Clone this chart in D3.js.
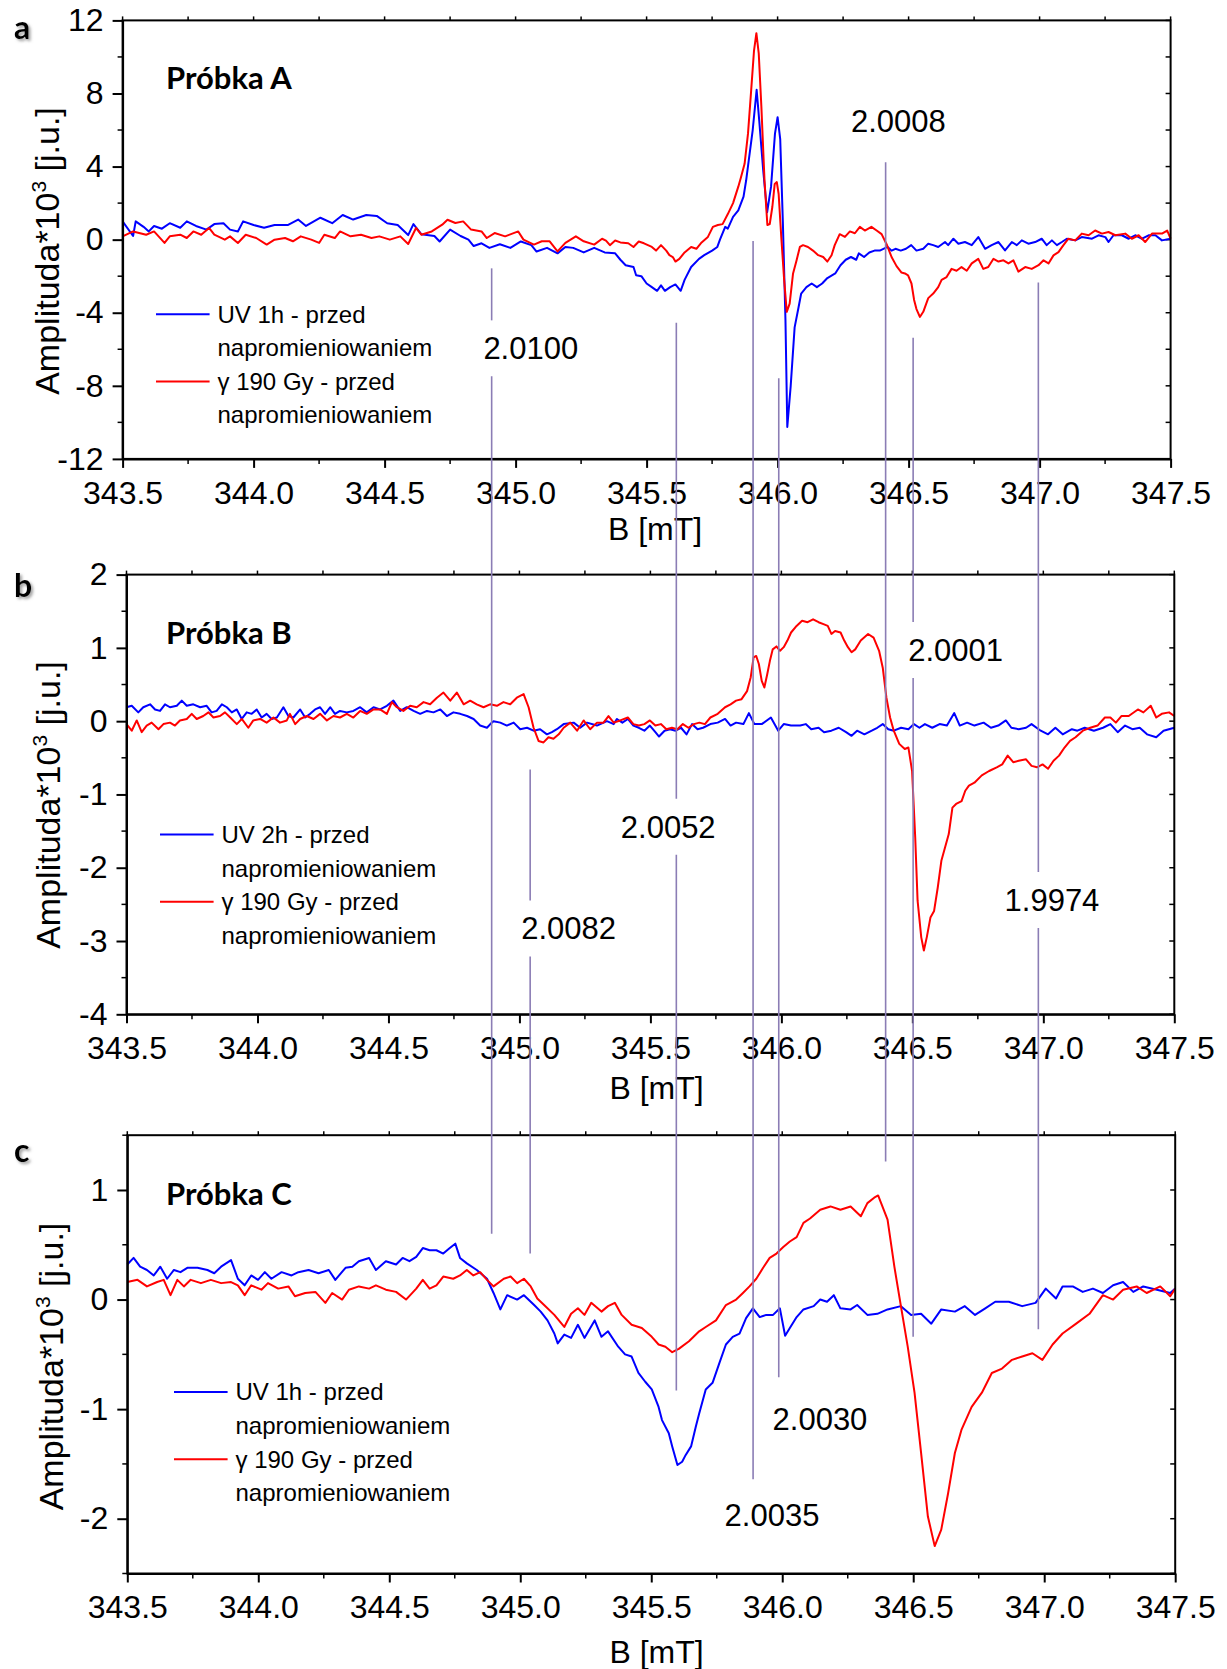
<!DOCTYPE html>
<html>
<head>
<meta charset="utf-8">
<script src="https://cdn.jsdelivr.net/npm/d3@7"></script>
<style>
  body { margin: 0; background: #fff; }
  svg { display: block; }
  text { font-family: "Liberation Sans", Arial, sans-serif; fill: #000; }
</style>
</head>
<body>
<div id="chart"></div>
<script>
// ---- data (B [mT], amplitude*10^3) ----

var blueA = [[343.50,1.0],[343.54,0.2],[343.55,1.0],[343.58,0.7],[343.60,0.45],[343.62,0.75],[343.65,0.6],[343.68,0.9],[343.72,0.65],[343.745,1.0],[343.78,0.75],[343.82,0.55],[343.85,0.85],[343.885,0.9],[343.91,0.55],[343.94,0.45],[343.96,1.0],[344.0,0.8],[344.04,0.65],[344.08,0.8],[344.13,0.8],[344.17,1.1],[344.2,0.75],[344.255,1.2],[344.3,0.9],[344.34,1.35],[344.38,1.1],[344.43,1.35],[344.47,1.3],[344.51,0.9],[344.55,0.8],[344.59,0.25],[344.61,0.85],[344.64,0.3],[344.69,0.2],[344.71,-0.1],[344.75,0.55],[344.79,0.2],[344.82,0.0],[344.84,-0.35],[344.87,-0.2],[344.9,-0.45],[344.94,-0.25],[344.98,-0.45],[345.02,-0.1],[345.06,-0.3],[345.08,-0.65],[345.12,-0.45],[345.16,-0.75],[345.19,-0.4],[345.22,-0.45],[345.26,-0.7],[345.3,-0.45],[345.34,-0.7],[345.38,-0.75],[345.40,-1.1],
  [345.42,-1.4],[345.45,-1.5],[345.46,-1.95],[345.48,-2.0],[345.50,-2.4],[345.52,-2.6],[345.54,-2.8],[345.555,-2.5],[345.57,-2.8],[345.59,-2.6],[345.61,-2.45],[345.63,-2.8],[345.645,-2.2],[345.67,-1.5],[345.70,-1.05],[345.72,-0.85],[345.75,-0.6],[345.77,-0.4],[345.78,0.0],[345.80,0.7],[345.81,0.6],[345.83,1.25],[345.85,1.6],[345.87,2.35],[345.88,3.25],[345.89,4.35],[345.905,6.0],[345.92,8.2],[345.93,6.5],[345.945,3.8],[345.96,1.5],[345.975,2.9],[345.99,5.8],[346.0,6.7],[346.01,5.5],[346.02,1.0],[346.03,-4.4],[346.037,-10.25],[346.05,-8.0],[346.065,-4.8],[346.08,-3.7],[346.09,-2.95],[346.11,-2.6],[346.13,-2.4],[346.15,-2.6],[346.17,-2.4],[346.19,-2.1],[346.22,-1.85],[346.24,-1.4],[346.26,-1.1],[346.28,-0.95],[346.30,-1.1],[346.31,-0.75],[346.33,-0.95],[346.35,-0.7],[346.37,-0.6],[346.39,-0.6],[346.42,-0.4],[346.435,-0.6],[346.45,-0.5],[346.47,-0.6],
  [346.49,-0.5],[346.51,-0.3],[346.53,-0.6],[346.556,-0.5],[346.575,-0.22],[346.594,-0.3],[346.613,-0.4],[346.639,-0.13],[346.651,-0.3],[346.671,0.05],[346.69,-0.22],[346.715,-0.13],[346.741,-0.3],[346.766,0.14],[346.792,-0.5],[346.817,-0.3],[346.843,-0.13],[346.868,-0.59],[346.894,-0.13],[346.913,-0.3],[346.932,-0.04],[346.957,-0.22],[346.983,-0.13],[347.008,0.05],[347.027,-0.3],[347.047,-0.04],[347.066,-0.3],[347.085,-0.13],[347.104,0.05],[347.136,-0.04],[347.161,0.14],[347.2,0.05],[347.225,0.24],[347.251,0.14],[347.263,-0.13],[347.282,0.24],[347.314,0.24],[347.34,0.05],[347.365,0.24],[347.391,0.05],[347.416,0.24],[347.442,0.24],[347.467,-0.04],[347.5,0.05]];

var redA = [[343.50,0.18],[343.54,0.45],[343.59,0.27],[343.62,0.45],[343.66,-0.18],[343.68,0.18],[343.72,0.27],[343.745,0.09],[343.77,0.45],[343.80,0.27],[343.83,0.64],[343.85,0.27],[343.89,0.0],[343.91,0.18],[343.94,-0.18],[343.97,0.27],[344.01,0.09],[344.05,-0.27],[344.08,0.0],[344.12,0.09],[344.15,-0.09],[344.18,0.18],[344.22,0.0],[344.25,-0.18],[344.27,0.27],[344.31,0.09],[344.33,0.45],[344.37,0.18],[344.41,0.27],[344.45,0.09],[344.48,0.18],[344.52,0.0],[344.56,0.18],[344.59,-0.24],[344.62,0.64],[344.64,0.27],[344.68,0.45],[344.72,0.82],[344.74,1.09],[344.77,0.91],[344.80,1.0],[344.83,0.55],[344.87,0.45],[344.89,0.09],[344.92,0.36],[344.96,0.18],[345.01,0.45],[345.03,0.0],[345.07,-0.27],[345.10,-0.09],[345.13,-0.09],[345.16,-0.64],[345.19,-0.18],[345.23,0.18],[345.26,-0.09],[345.30,-0.27],[345.33,0.05],[345.345,-0.05],[345.36,-0.3],[345.38,-0.05],[345.40,-0.15],[345.43,-0.2],[345.45,-0.4],[345.47,-0.1],[345.49,-0.2],[345.52,-0.4],[345.536,-0.6],[345.555,-0.3],[345.575,-0.6],[345.587,-0.85],[345.6,-0.95],[345.61,-1.2],[345.625,-1.05],[345.645,-0.7],[345.67,-0.4],[345.69,-0.5],[345.71,-0.15],[345.734,0.15],[345.753,0.7],[345.772,0.8],[345.79,0.85],[345.81,1.4],[345.83,2.0],[345.85,2.9],[345.86,3.4],[345.874,4.15],[345.887,5.8],[345.9,8.35],[345.91,10.35],[345.919,11.3],[345.928,10.2],[345.938,7.3],[345.95,3.25],[345.961,0.8],[345.97,0.85],[345.98,1.8],[345.989,3.05],[345.997,3.15],[346.004,2.5],[346.014,0.15],[346.025,-2.2],[346.035,-3.95],[346.046,-3.5],[346.059,-1.85],[346.072,-1.15],[346.085,-0.4],[346.097,-0.3],[346.116,-0.4],[346.135,-0.6],[346.155,-0.85],[346.174,-0.95],[346.19,-1.2],[346.206,-0.85],[346.218,-0.3],[346.237,0.3],[346.257,0.15],[346.276,0.45],[346.295,0.35],[346.314,0.7],[346.333,0.5],[346.358,0.7],[346.378,0.5],[346.397,0.3],[346.416,-0.25],[346.435,-0.95],[346.454,-1.45],[346.473,-1.8],[346.486,-1.85],[346.498,-1.95],[346.511,-2.4],[346.521,-3.3],[346.53,-3.8],[346.543,-4.23],[346.556,-3.95],[346.575,-3.2],[346.594,-2.95],[346.613,-2.6],[346.626,-2.2],[346.645,-2.05],[346.664,-1.6],[346.683,-1.7],[346.702,-1.5],[346.722,-1.7],[346.741,-1.3],[346.766,-1.05],[346.785,-1.6],[346.804,-1.5],[346.824,-1.05],[346.843,-1.2],[346.862,-1.13],[346.881,-1.3],[346.9,-1.13],[346.919,-1.75],[346.945,-1.5],[346.97,-1.6],[346.996,-1.4],[347.015,-1.13],[347.034,-1.3],[347.053,-0.86],[347.072,-0.68],[347.091,-0.3],[347.11,0.05],[347.136,-0.04],[347.161,0.33],[347.187,0.24],[347.212,0.5],[347.238,0.33],[347.263,0.42],[347.289,0.24],[347.327,0.33],[347.352,0.05],[347.378,0.24],[347.403,-0.13],[347.429,0.33],[347.467,0.33],[347.487,0.5],[347.5,0.05]];

var blueB = [[343.50,0.19],[343.52,0.21],[343.545,0.12],[343.564,0.19],[343.59,0.23],[343.609,0.16],[343.628,0.14],[343.647,0.23],[343.666,0.19],[343.692,0.21],[343.711,0.28],[343.73,0.21],[343.755,0.23],[343.781,0.19],[343.806,0.21],[343.825,0.12],[343.844,0.14],[343.864,0.23],[343.883,0.19],[343.902,0.12],[343.921,0.16],[343.94,0.03],[343.959,0.12],[343.978,0.10],[343.997,0.16],[344.016,0.05],[344.035,0.10],[344.054,0.03],[344.074,0.05],[344.099,0.19],[344.118,0.07],[344.137,0.05],[344.163,0.16],[344.182,0.05],[344.201,0.10],[344.22,0.16],[344.239,0.19],[344.258,0.10],[344.278,0.19],[344.296,0.10],[344.315,0.14],[344.341,0.12],[344.366,0.14],[344.392,0.19],[344.417,0.12],[344.443,0.19],[344.468,0.16],[344.494,0.21],[344.519,0.28],[344.545,0.14],[344.57,0.19],[344.596,0.14],[344.621,0.10],[344.647,0.14],[344.672,0.12],[344.698,0.16],[344.723,0.07],[344.748,0.12],[344.774,0.10],[344.8,0.07],[344.825,0.03],[344.85,-0.06],[344.876,-0.09],[344.889,-0.04],[344.901,0.0],[344.927,-0.02],[344.952,-0.06],[344.978,-0.02],[345.003,-0.11],[345.029,-0.09],[345.054,-0.13],[345.079,-0.11],[345.105,-0.18],[345.124,-0.15],[345.143,-0.11],[345.169,-0.04],[345.207,-0.02],[345.232,-0.09],[345.258,-0.02],[345.296,-0.06],[345.334,0.0],[345.36,-0.04],
  [345.372,0.03],[345.393,-0.02],[345.414,0.03],[345.435,-0.06],[345.456,-0.09],[345.477,-0.13],[345.498,-0.06],[345.519,-0.15],[345.533,-0.21],[345.554,-0.13],[345.575,-0.11],[345.596,-0.13],[345.617,-0.09],[345.638,-0.18],[345.659,-0.04],[345.68,-0.11],[345.701,-0.09],[345.729,-0.04],[345.757,-0.02],[345.785,0.03],[345.806,-0.06],[345.827,-0.02],[345.855,-0.04],[345.876,0.11],[345.897,-0.04],[345.925,-0.04],[345.96,0.05],[345.988,-0.13],[346.009,-0.04],[346.037,-0.06],[346.072,-0.06],[346.093,-0.04],[346.114,-0.11],[346.142,-0.09],[346.163,-0.15],[346.191,-0.13],[346.219,-0.09],[346.247,-0.15],[346.268,-0.20],[346.289,-0.13],[346.317,-0.18],[346.345,-0.13],[346.366,-0.09],[346.387,-0.04],[346.408,-0.11],[346.429,-0.13],[346.457,-0.09],[346.485,-0.11],[346.506,-0.04],[346.527,-0.09],[346.548,-0.04],[346.576,-0.09],[346.604,-0.04],[346.632,-0.06],[346.66,0.11],[346.681,-0.06],[346.709,-0.02],[346.737,-0.06],[346.772,-0.02],[346.8,-0.09],[346.828,-0.06],[346.857,0.01],[346.878,-0.09],[346.906,-0.11],[346.934,-0.09],[346.955,-0.04],[346.99,-0.13],[347.018,-0.18],[347.046,-0.09],[347.074,-0.18],[347.109,-0.11],[347.13,-0.13],[347.158,-0.09],[347.193,-0.13],[347.228,-0.09],[347.256,-0.04],[347.284,-0.15],[347.312,-0.06],[347.34,-0.11],[347.368,-0.09],[347.396,-0.18],[347.431,-0.22],[347.459,-0.13],[347.5,-0.09]];

var redB = [[343.50,-0.04],[343.52,-0.13],[343.539,0.01],[343.558,-0.15],[343.577,-0.06],[343.596,-0.02],[343.622,-0.11],[343.641,-0.04],[343.666,-0.02],[343.685,-0.06],[343.704,0.01],[343.73,0.03],[343.749,0.10],[343.768,0.03],[343.793,0.07],[343.813,0.12],[343.832,0.05],[343.857,0.07],[343.876,0.12],[343.896,0.05],[343.921,-0.04],[343.94,0.03],[343.965,-0.09],[343.984,0.01],[344.01,0.03],[344.035,-0.02],[344.061,0.05],[344.086,-0.02],[344.112,0.01],[344.124,0.10],[344.144,-0.04],[344.163,0.03],[344.188,0.07],[344.214,0.03],[344.239,0.10],[344.265,0.01],[344.29,0.07],[344.315,0.05],[344.341,0.10],[344.366,0.05],[344.392,0.14],[344.417,0.10],[344.443,0.16],[344.468,0.16],[344.494,0.10],[344.513,0.26],[344.532,0.19],[344.557,0.14],[344.583,0.21],[344.608,0.19],[344.634,0.26],[344.659,0.23],[344.685,0.32],[344.71,0.39],[344.736,0.28],[344.761,0.39],[344.787,0.23],[344.812,0.28],[344.837,0.23],[344.863,0.19],[344.888,0.23],[344.914,0.21],[344.939,0.26],[344.965,0.23],[344.99,0.32],[345.016,0.37],[345.035,0.19],[345.054,-0.09],[345.073,-0.27],[345.092,-0.29],[345.111,-0.22],[345.13,-0.24],[345.15,-0.18],[345.169,-0.09],[345.194,-0.02],[345.22,-0.13],[345.245,0.01],[345.27,-0.11],[345.296,-0.02],[345.321,-0.02],[345.34,0.07],[345.36,-0.02],[345.385,0.01],
  [345.414,0.05],[345.435,-0.04],[345.456,-0.06],[345.477,-0.04],[345.498,0.01],[345.519,-0.06],[345.54,-0.04],[345.561,-0.11],[345.582,-0.09],[345.603,-0.11],[345.624,-0.04],[345.645,-0.09],[345.666,-0.04],[345.687,-0.02],[345.708,-0.04],[345.729,0.05],[345.757,0.10],[345.785,0.19],[345.806,0.23],[345.827,0.28],[345.848,0.30],[345.869,0.41],[345.883,0.60],[345.894,0.87],[345.904,0.89],[345.914,0.78],[345.925,0.55],[345.935,0.46],[345.946,0.64],[345.956,0.82],[345.967,0.98],[345.981,1.02],[345.995,0.96],[346.009,1.01],[346.023,1.10],[346.037,1.21],[346.058,1.30],[346.079,1.37],[346.1,1.35],[346.121,1.39],[346.142,1.35],[346.163,1.32],[346.177,1.30],[346.191,1.19],[346.205,1.23],[346.226,1.21],[346.24,1.10],[346.254,1.01],[346.268,0.94],[346.282,0.98],[346.303,1.10],[346.331,1.19],[346.352,1.14],[346.373,0.96],[346.387,0.73],[346.401,0.32],[346.415,0.05],[346.429,-0.13],[346.45,-0.31],[346.471,-0.38],[346.485,-0.36],[346.499,-0.68],[346.511,-1.59],[346.520,-2.45],[346.534,-2.95],[346.544,-3.13],[346.555,-2.95],[346.569,-2.68],[346.583,-2.59],[346.597,-2.27],[346.611,-1.90],[346.625,-1.72],[346.639,-1.54],[346.653,-1.18],[346.667,-1.13],[346.688,-1.09],[346.702,-0.95],[346.716,-0.88],[346.737,-0.84],[346.765,-0.74],[346.793,-0.68],[346.822,-0.63],[346.843,-0.59],[346.864,-0.47],[346.885,-0.56],[346.906,-0.54],[346.934,-0.52],[346.955,-0.61],[346.976,-0.63],[346.997,-0.59],[347.018,-0.65],[347.039,-0.54],[347.06,-0.47],[347.081,-0.36],[347.102,-0.27],[347.123,-0.22],[347.151,-0.13],[347.179,-0.09],[347.207,-0.06],[347.235,0.05],[347.256,0.05],[347.277,-0.02],[347.298,0.07],[347.326,0.07],[347.361,0.16],[347.382,0.12],[347.41,0.21],[347.431,0.05],[347.452,0.10],[347.48,0.12],[347.5,0.07]];

var blueC = [[343.50,0.32],[343.524,0.38],[343.549,0.30],[343.575,0.27],[343.601,0.22],[343.626,0.30],[343.652,0.19],[343.678,0.27],[343.703,0.25],[343.729,0.29],[343.768,0.29],[343.806,0.27],[343.832,0.24],[343.858,0.30],[343.896,0.36],[343.922,0.19],[343.948,0.13],[343.973,0.22],[343.999,0.18],[344.025,0.25],[344.05,0.19],[344.089,0.25],[344.127,0.22],[344.153,0.25],[344.192,0.27],[344.23,0.24],[344.269,0.27],[344.294,0.18],[344.333,0.29],[344.359,0.30],[344.384,0.35],[344.423,0.38],[344.449,0.27],[344.487,0.35],[344.526,0.32],[344.551,0.38],[344.577,0.35],[344.603,0.39],[344.628,0.47],[344.654,0.45],[344.68,0.45],[344.706,0.42],[344.731,0.47],[344.752,0.51],[344.77,0.38],[344.796,0.33],[344.834,0.27],[344.873,0.19],[344.898,0.06],[344.924,-0.09],[344.95,0.04],[344.988,0.0],[345.014,0.04],[345.053,-0.05],[345.078,-0.11],[345.104,-0.19],[345.13,-0.31],[345.143,-0.40],[345.168,-0.32],[345.194,-0.35],[345.22,-0.23],[345.245,-0.35],[345.284,-0.19],[345.31,-0.34],[345.335,-0.29],[345.374,-0.43],[345.4,-0.50],[345.425,-0.52],[345.451,-0.67],[345.477,-0.75],[345.502,-0.82],[345.528,-0.98],[345.541,-1.10],[345.567,-1.22],[345.58,-1.34],[345.6,-1.51],[345.618,-1.48],[345.631,-1.42],[345.652,-1.34],[345.67,-1.16],[345.683,-1.04],[345.708,-0.82],[345.734,-0.76],[345.76,-0.58],[345.785,-0.41],[345.811,-0.34],[345.837,-0.31],[345.862,-0.17],[345.888,-0.08],[345.914,-0.16],[345.939,-0.14],[345.965,-0.14],[345.991,-0.08],[346.011,-0.33],[346.029,-0.26],[346.055,-0.16],[346.081,-0.09],[346.12,-0.06],[346.145,0.0],[346.171,-0.02],[346.197,0.04],[346.222,-0.08],[346.261,-0.09],[346.286,-0.05],[346.325,-0.14],[346.363,-0.13],[346.402,-0.09],[346.453,-0.06],[346.492,-0.14],[346.53,-0.13],[346.569,-0.22],[346.607,-0.09],[346.659,-0.11],[346.697,-0.06],[346.736,-0.14],[346.775,-0.08],[346.813,-0.02],[346.865,-0.02],[346.916,-0.06],[346.967,-0.03],[347.006,0.10],[347.045,0.01],[347.07,0.12],[347.109,0.12],[347.147,0.07],[347.186,0.10],[347.224,0.06],[347.263,0.13],[347.301,0.16],[347.34,0.07],[347.378,0.12],[347.43,0.09],[347.481,0.06],[347.5,0.1]];

var redC = [[343.50,0.16],[343.539,0.18],[343.575,0.12],[343.614,0.16],[343.639,0.18],[343.665,0.04],[343.691,0.18],[343.716,0.12],[343.742,0.18],[343.781,0.15],[343.819,0.18],[343.858,0.15],[343.896,0.16],[343.922,0.13],[343.948,0.04],[343.973,0.13],[344.012,0.09],[344.037,0.15],[344.076,0.10],[344.115,0.12],[344.14,0.03],[344.179,0.06],[344.218,0.07],[344.256,-0.03],[344.282,0.06],[344.32,0.0],[344.346,0.09],[344.384,0.12],[344.423,0.10],[344.449,0.13],[344.487,0.09],[344.526,0.07],[344.564,0.0],[344.603,0.10],[344.628,0.18],[344.654,0.10],[344.68,0.13],[344.706,0.21],[344.744,0.19],[344.77,0.22],[344.796,0.27],[344.821,0.22],[344.847,0.25],[344.873,0.18],[344.898,0.12],[344.937,0.19],[344.963,0.21],[344.988,0.15],[345.014,0.19],[345.04,0.12],[345.065,0.01],[345.091,-0.05],[345.13,-0.14],[345.168,-0.25],[345.194,-0.13],[345.22,-0.08],[345.245,-0.14],[345.271,-0.03],[345.31,-0.11],[345.335,-0.06],[345.361,-0.03],[345.387,-0.14],[345.425,-0.23],[345.464,-0.26],[345.502,-0.34],[345.528,-0.41],[345.554,-0.43],[345.58,-0.48],[345.605,-0.45],[345.644,-0.38],[345.683,-0.29],[345.708,-0.25],[345.747,-0.19],[345.785,-0.05],[345.824,0.0],[345.85,0.06],[345.875,0.12],[345.901,0.19],[345.927,0.29],[345.952,0.38],[345.978,0.42],[346.004,0.48],[346.029,0.53],[346.055,0.57],[346.081,0.70],[346.106,0.74],[346.145,0.82],[346.184,0.85],[346.222,0.82],[346.261,0.85],[346.3,0.76],[346.325,0.88],[346.351,0.93],[346.366,0.95],[346.376,0.89],[346.402,0.73],[346.428,0.30],[346.453,-0.06],[346.479,-0.43],[346.505,-0.85],[346.53,-1.40],[346.556,-1.98],[346.582,-2.25],[346.607,-2.10],[346.633,-1.77],[346.659,-1.40],[346.684,-1.19],[346.723,-0.98],[346.762,-0.85],[346.8,-0.67],[346.839,-0.63],[346.877,-0.55],[346.916,-0.52],[346.955,-0.49],[346.993,-0.55],[347.032,-0.41],[347.07,-0.31],[347.122,-0.22],[347.173,-0.13],[347.224,0.04],[347.263,0.0],[347.301,0.09],[347.353,0.12],[347.391,0.06],[347.443,0.12],[347.481,0.03],[347.5,0.1]];

// axis ticks
var xTicks = [343.5, 344.0, 344.5, 345.0, 345.5, 346.0, 346.5, 347.0, 347.5];
var yTicksA = [-12, -8, -4, 0, 4, 8, 12];
var yTicksB = [-4, -3, -2, -1, 0, 1, 2];
var yTicksC = [-2, -1, 0, 1];

// legend text
var blueNames = ['UV 1h - przed', 'UV 2h - przed', 'UV 1h - przed'];
var redName = '\u03b3 190 Gy - przed';
var nameTail = 'napromieniowaniem';
var sampleTitles = ['Próbka A', 'Próbka B', 'Próbka C'];
var panelLetters = ['a', 'b', 'c'];

// g-factor markers: field, start / end (panel, amplitude), label position (panel, B, amplitude)
var gLabels  = ['2.0100', '2.0082', '2.0052', '2.0035', '2.0030', '2.0008', '2.0001', '1.9974'];
var markB    = [344.894, 345.041, 345.599, 345.892, 345.990, 346.398, 346.503, 346.981];
var markFrom = [['a',-1.57], ['b',-0.66], ['a',-4.55], ['a',-0.07], ['a',-7.58], ['a',4.23], ['a',-5.37], ['a',-2.34]];
var markTo   = [['c',0.60], ['c',0.42], ['c',-0.83], ['c',-1.64], ['c',-0.71], ['c',1.26], ['c',-0.34], ['c',-0.27]];
var labelAt  = [['a',345.058,-5.95], ['b',345.188,-2.83], ['b',345.568,-1.44], ['c',345.961,-1.97],
                ['c',346.144,-1.09], ['a',346.461,6.47], ['b',346.665,0.97], ['b',347.033,-2.44]];
var labelCuts = [true, true, true, false, false, false, true, true];

// ---- layout ----
var W = 1227, H = 1669;
var panels = [
  {id:'a', blue:blueA, red:redA, yDomain:[-12,12], yTicks:yTicksA, yMinor:2,
   box:[122.6,20.4,1170.6,458.9], letter:[14,38.6], title:[166,89.3], legend:[156,314.3],
   ytitle:[47.5,251], xtitle:[655,528.6]},
  {id:'b', blue:blueB, red:redB, yDomain:[-4,2], yTicks:yTicksB, yMinor:0.5,
   box:[126.5,574.6,1174.3,1014.3], letter:[14,597], title:[166,643.6], legend:[160,834.6],
   ytitle:[48,805], xtitle:[656.6,1087.6]},
  {id:'c', blue:blueC, red:redC, yDomain:[-2.5,1.5], yTicks:yTicksC, yMinor:0.5,
   box:[127.3,1135.2,1175.2,1573.5], letter:[14,1161.7], title:[166,1205], legend:[174,1392],
   ytitle:[51.4,1366.5], xtitle:[656.6,1651.5]}
];

var svg = d3.select('#chart').append('svg').attr('width', W).attr('height', H);

svg.append('defs').append('filter').attr('id', 'shadow')
  .attr('x', '-50%').attr('y', '-50%').attr('width', '200%').attr('height', '200%')
  .append('feDropShadow').attr('dx', 2).attr('dy', 2).attr('stdDeviation', 1.6)
  .attr('flood-color', '#777').attr('flood-opacity', 0.7);

var scales = {};

function range(a, b, step) {
  var out = [];
  for (var v = a; v <= b + 1e-9; v += step) out.push(Math.round(v * 1000) / 1000);
  return out;
}

panels.forEach(function(p, i) {
  var x = d3.scaleLinear().domain([343.5, 347.5]).range([p.box[0], p.box[2]]);
  var y = d3.scaleLinear().domain(p.yDomain).range([p.box[3], p.box[1]]);
  scales[p.id] = {x: x, y: y};

  var g = svg.append('g').attr('class', 'panel panel-' + p.id);

  var xMinor = range(343.5, 347.5, 0.25);
  var yAll = range(p.yDomain[0], p.yDomain[1], p.yMinor);

  // minor ticks
  g.selectAll('.xminor').data(xMinor.filter(function(d){ return xTicks.indexOf(d) < 0; }))
    .enter().append('line')
    .attr('x1', x).attr('x2', x).attr('y1', p.box[3]).attr('y2', p.box[3] + 5)
    .attr('stroke', '#000').attr('stroke-width', 1.5);
  g.selectAll('.yminor').data(yAll.filter(function(d){ return p.yTicks.indexOf(d) < 0; }))
    .enter().append('line')
    .attr('x1', p.box[0] - 5).attr('x2', p.box[0]).attr('y1', y).attr('y2', y)
    .attr('stroke', '#000').attr('stroke-width', 1.5);
  // mirrored ticks on top and right
  g.selectAll('.xtop').data(xMinor).enter().append('line')
    .attr('x1', x).attr('x2', x).attr('y1', p.box[1] - 4).attr('y2', p.box[1])
    .attr('stroke', '#000').attr('stroke-width', 1.5);
  g.selectAll('.yright').data(yAll).enter().append('line')
    .attr('x1', p.box[2] - 5).attr('x2', p.box[2]).attr('y1', y).attr('y2', y)
    .attr('stroke', '#000').attr('stroke-width', 1.5);

  // data
  var line = d3.line().x(function(d){ return x(d[0]); }).y(function(d){ return y(d[1]); });
  g.append('path').datum(p.blue).attr('d', line)
    .attr('fill', 'none').attr('stroke', '#0000ff').attr('stroke-width', 2).attr('stroke-linejoin', 'round');
  g.append('path').datum(p.red).attr('d', line)
    .attr('fill', 'none').attr('stroke', '#ff0000').attr('stroke-width', 2).attr('stroke-linejoin', 'round');

  // frame
  g.append('rect').attr('x', p.box[0]).attr('y', p.box[1])
    .attr('width', p.box[2] - p.box[0]).attr('height', p.box[3] - p.box[1])
    .attr('fill', 'none').attr('stroke', '#000').attr('stroke-width', 2);

  // axes
  var xa = g.append('g').attr('transform', 'translate(0,' + p.box[3] + ')')
    .call(d3.axisBottom(x).tickValues(xTicks).tickSize(9).tickSizeOuter(0).tickPadding(13)
      .tickFormat(d3.format('.1f')));
  var ya = g.append('g').attr('transform', 'translate(' + p.box[0] + ',0)')
    .call(d3.axisLeft(y).tickValues(p.yTicks).tickSize(10).tickSizeOuter(0).tickPadding(9)
      .tickFormat(function(d){ return String(d); }));
  [xa, ya].forEach(function(a) {
    a.attr('font-family', null).attr('font-size', null);
    a.select('.domain').attr('stroke-width', 2);
    a.selectAll('.tick line').attr('stroke-width', 2);
    a.selectAll('.tick text').style('font-size', '32px').attr('fill', '#000');
  });

  // axis titles
  svg.append('text').attr('x', p.xtitle[0]).attr('y', p.xtitle[1]).attr('dy', '0.35em')
    .attr('text-anchor', 'middle').style('font-size', '32px').text('B [mT]');

  var yt = svg.append('text')
    .attr('transform', 'translate(' + p.ytitle[0] + ',' + p.ytitle[1] + ') rotate(-90)')
    .attr('text-anchor', 'middle').attr('dy', '0.35em').style('font-size', '34px');
  yt.append('tspan').text('Amplituda*10');
  yt.append('tspan').attr('dy', -13).style('font-size', '21px').text('3');
  yt.append('tspan').attr('dy', 13).text(' [j.u.]');

  // sample title and panel letter
  svg.append('text').attr('x', p.title[0]).attr('y', p.title[1])
    .style('font-family', 'Lato, "Open Sans", sans-serif').style('font-weight', 700)
    .style('font-size', '31px').text(sampleTitles[i]);
  svg.append('text').attr('x', p.letter[0]).attr('y', p.letter[1])
    .style('font-family', 'Lato, "Open Sans", sans-serif').style('font-weight', 700)
    .style('font-size', '32px').attr('filter', 'url(#shadow)').text(panelLetters[i]);

  // legend
  var lg = svg.append('g').attr('transform', 'translate(' + p.legend[0] + ',' + p.legend[1] + ')');
  var rows = [[blueNames[i], '#0000ff'], [nameTail, null], [redName, '#ff0000'], [nameTail, null]];
  rows.forEach(function(r, k) {
    var ry = k * 33.6;
    if (r[1]) lg.append('line').attr('x1', 0).attr('x2', 53.6).attr('y1', ry).attr('y2', ry)
      .attr('stroke', r[1]).attr('stroke-width', 2);
    lg.append('text').attr('x', 61.5).attr('y', ry).attr('dy', '0.35em')
      .style('font-size', '24px').text(r[0]);
  });
});

// ---- g-factor marker lines spanning all panels ----
var overlay = svg.append('g').attr('class', 'markers');
var xm = scales.b.x;
markB.forEach(function(b, i) {
  var y0 = scales[markFrom[i][0]].y(markFrom[i][1]);
  var y1 = scales[markTo[i][0]].y(markTo[i][1]);
  var la = labelAt[i];
  var ly = scales[la[0]].y(la[2]);
  var segs = labelCuts[i] ? [[y0, ly - 28], [ly + 28, y1]] : [[y0, y1]];
  segs.forEach(function(s) {
    overlay.append('line').attr('x1', xm(b)).attr('x2', xm(b)).attr('y1', s[0]).attr('y2', s[1])
      .attr('stroke', '#8b7db5').attr('stroke-width', 1.6);
  });
  overlay.append('text').attr('x', scales[la[0]].x(la[1])).attr('y', ly).attr('dy', '0.35em')
    .attr('text-anchor', 'middle').style('font-size', '31px').text(gLabels[i]);
});
</script>
</body>
</html>
